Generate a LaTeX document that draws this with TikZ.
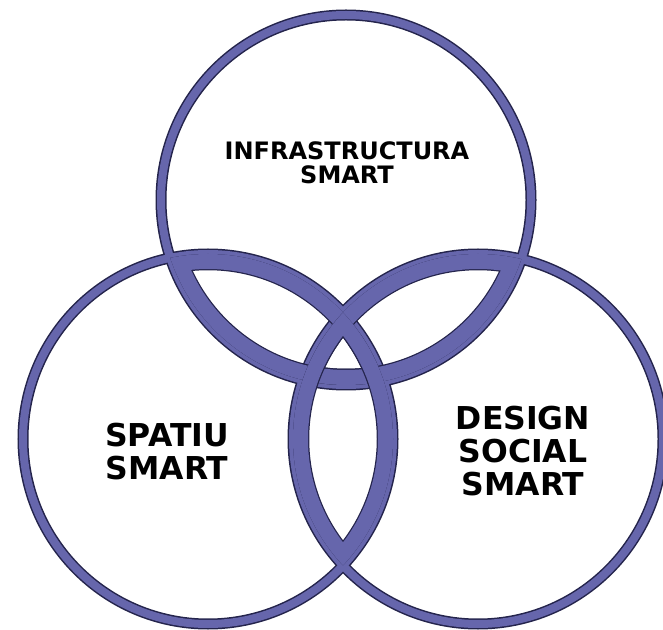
\documentclass[tikz,border=0pt]{standalone}
\usepackage{fontspec}
\setmainfont{DejaVu Sans}

\definecolor{ringblue}{RGB}{102,102,172}
\definecolor{ringdark}{RGB}{36,36,76}

\begin{document}
\begin{tikzpicture}[x=1pt,y=1pt,
  band/.style={ringblue,line width=8pt},
  bandedge/.style={ringdark,line width=11pt},
  lens/.style={ringblue,line width=30pt},
  lensedge/.style={ringdark,line width=32.5pt},
  smalltitle/.style={align=center,font=\bfseries\fontsize{24}{24.5}\selectfont},
  bigtitle/.style={align=center,font=\bfseries\fontsize{31.5}{33}\selectfont}]
\useasboundingbox (0,0) rectangle (663,629);
\coordinate (T) at (346,429);
\coordinate (L) at (208,190);
\coordinate (R) at (478,190);

% the three rings
\foreach \c in {T,L,R} \draw[bandedge] (\c) circle[radius=185];
\foreach \c in {T,L,R} \draw[band] (\c) circle[radius=185];

% thick bands inside the overlaps
\foreach \a/\b in {T/L,T/R,L/R}{
  \begin{scope}
    \clip (\a) circle[radius=185];
    \clip (\b) circle[radius=185];
    \draw[lensedge] (\a) circle[radius=185] (\b) circle[radius=185];
    \draw[lens] (\a) circle[radius=185] (\b) circle[radius=185];
  \end{scope}
}

\node[smalltitle] (infra) at (347,466) {INFRASTRUCTURA\\SMART};
\node[bigtitle] (spatiu) at (167,177) {SPATIU\\SMART};
\node[bigtitle] (design) at (523,178) {DESIGN\\SOCIAL\\SMART};
\end{tikzpicture}
\end{document}
